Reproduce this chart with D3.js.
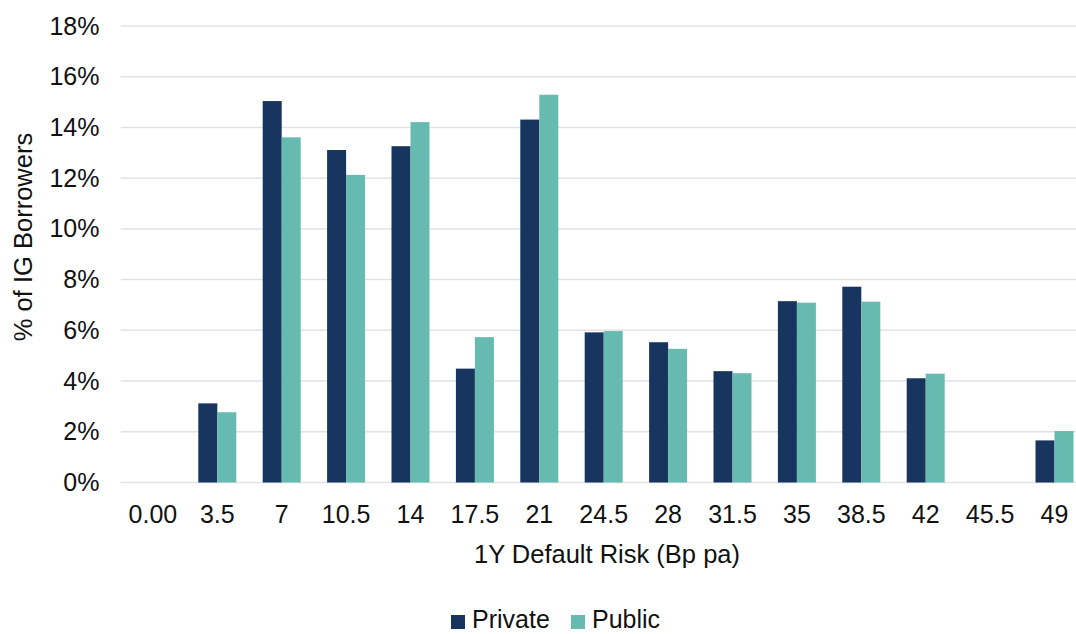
<!DOCTYPE html>
<html>
<head>
<meta charset="utf-8">
<script src="https://cdn.jsdelivr.net/npm/d3@7"></script>
<style>
  html, body { margin: 0; padding: 0; background: #ffffff; }
  svg { display: block; font-family: "Liberation Sans", Arial, sans-serif; }
</style>
</head>
<body>
<svg id="chart" width="1076" height="634"></svg>
<script>
// Default-risk buckets (Bp pa) and share of IG borrowers in each
const categories = ["0.00", "3.5", "7", "10.5", "14", "17.5", "21", "24.5", "28", "31.5", "35", "38.5", "42", "45.5", "49"];
const seriesNames = ["Private", "Public"];
const privateValues = [0, 3.12, 15.04, 13.11, 13.26, 4.49, 14.31, 5.92, 5.53, 4.39, 7.15, 7.72, 4.11, 0, 1.66];
const publicValues  = [0, 2.77, 13.61, 12.13, 14.21, 5.73, 15.29, 5.97, 5.27, 4.31, 7.09, 7.13, 4.29, 0, 2.03];
const yTicks = [0, 2, 4, 6, 8, 10, 12, 14, 16, 18];
const colors = ["#17355e", "#67baaf"];

const svg = d3.select("#chart");

const x0 = d3.scaleBand()
  .domain(categories)
  .range([120.7, 1086.7])
  .paddingInner(0.41)
  .paddingOuter(0.205);

const x1 = d3.scaleBand()
  .domain(seriesNames)
  .range([0, x0.bandwidth()]);

const y = d3.scaleLinear()
  .domain([0, 18])
  .range([482.5, 26]);

// Horizontal gridlines
svg.append("g")
  .selectAll("line")
  .data(yTicks)
  .join("line")
  .attr("x1", 120.7)
  .attr("x2", 1076)
  .attr("y1", d => y(d))
  .attr("y2", d => y(d))
  .attr("stroke", "#e2e2e2")
  .attr("stroke-width", 1.5);

// Y axis tick labels
const yAxis = d3.axisLeft(y)
  .tickValues(yTicks)
  .tickFormat(d => d + "%")
  .tickSize(0)
  .tickPadding(0);

svg.append("g")
  .attr("transform", "translate(99.5,0)")
  .call(yAxis)
  .call(g => g.select(".domain").remove())
  .call(g => g.selectAll("text")
    .attr("font-size", 25)
    .attr("fill", "#111")
    .attr("font-family", "Liberation Sans, Arial, sans-serif"));

// X axis tick labels
const xAxis = d3.axisBottom(x0).tickSize(0).tickPadding(0);
svg.append("g")
  .attr("transform", "translate(0,505)")
  .call(xAxis)
  .call(g => g.select(".domain").remove())
  .call(g => g.selectAll("text")
    .attr("font-size", 25)
    .attr("fill", "#111")
    .attr("dy", "0.71em")
    .attr("font-family", "Liberation Sans, Arial, sans-serif"));

// Grouped bars
const rows = categories.map((c, i) => ({ cat: c, vals: [privateValues[i], publicValues[i]] }));
svg.append("g")
  .selectAll("g")
  .data(rows)
  .join("g")
  .attr("transform", d => `translate(${x0(d.cat)},0)`)
  .selectAll("rect")
  .data(d => d.vals.map((v, j) => ({ key: seriesNames[j], v, j })))
  .join("rect")
  .attr("x", d => x1(d.key))
  .attr("width", x1.bandwidth())
  .attr("y", d => y(d.v))
  .attr("height", d => y(0) - y(d.v))
  .attr("fill", d => colors[d.j]);

// Axis titles
svg.append("text")
  .attr("x", 607)
  .attr("y", 563)
  .attr("text-anchor", "middle")
  .attr("font-size", 25.5)
  .attr("fill", "#111")
  .text("1Y Default Risk (Bp pa)");

svg.append("text")
  .attr("transform", "translate(32,237) rotate(-90)")
  .attr("text-anchor", "middle")
  .attr("font-size", 25.5)
  .attr("fill", "#111")
  .text("% of IG Borrowers");

// Legend
const legend = svg.append("g");
const legendX = [451, 571];
seriesNames.forEach((name, i) => {
  legend.append("rect")
    .attr("x", legendX[i])
    .attr("y", 615)
    .attr("width", 14)
    .attr("height", 14)
    .attr("fill", colors[i]);
  legend.append("text")
    .attr("x", legendX[i] + 21)
    .attr("y", 628)
    .attr("font-size", 25)
    .attr("fill", "#111")
    .text(name);
});
</script>
</body>
</html>
